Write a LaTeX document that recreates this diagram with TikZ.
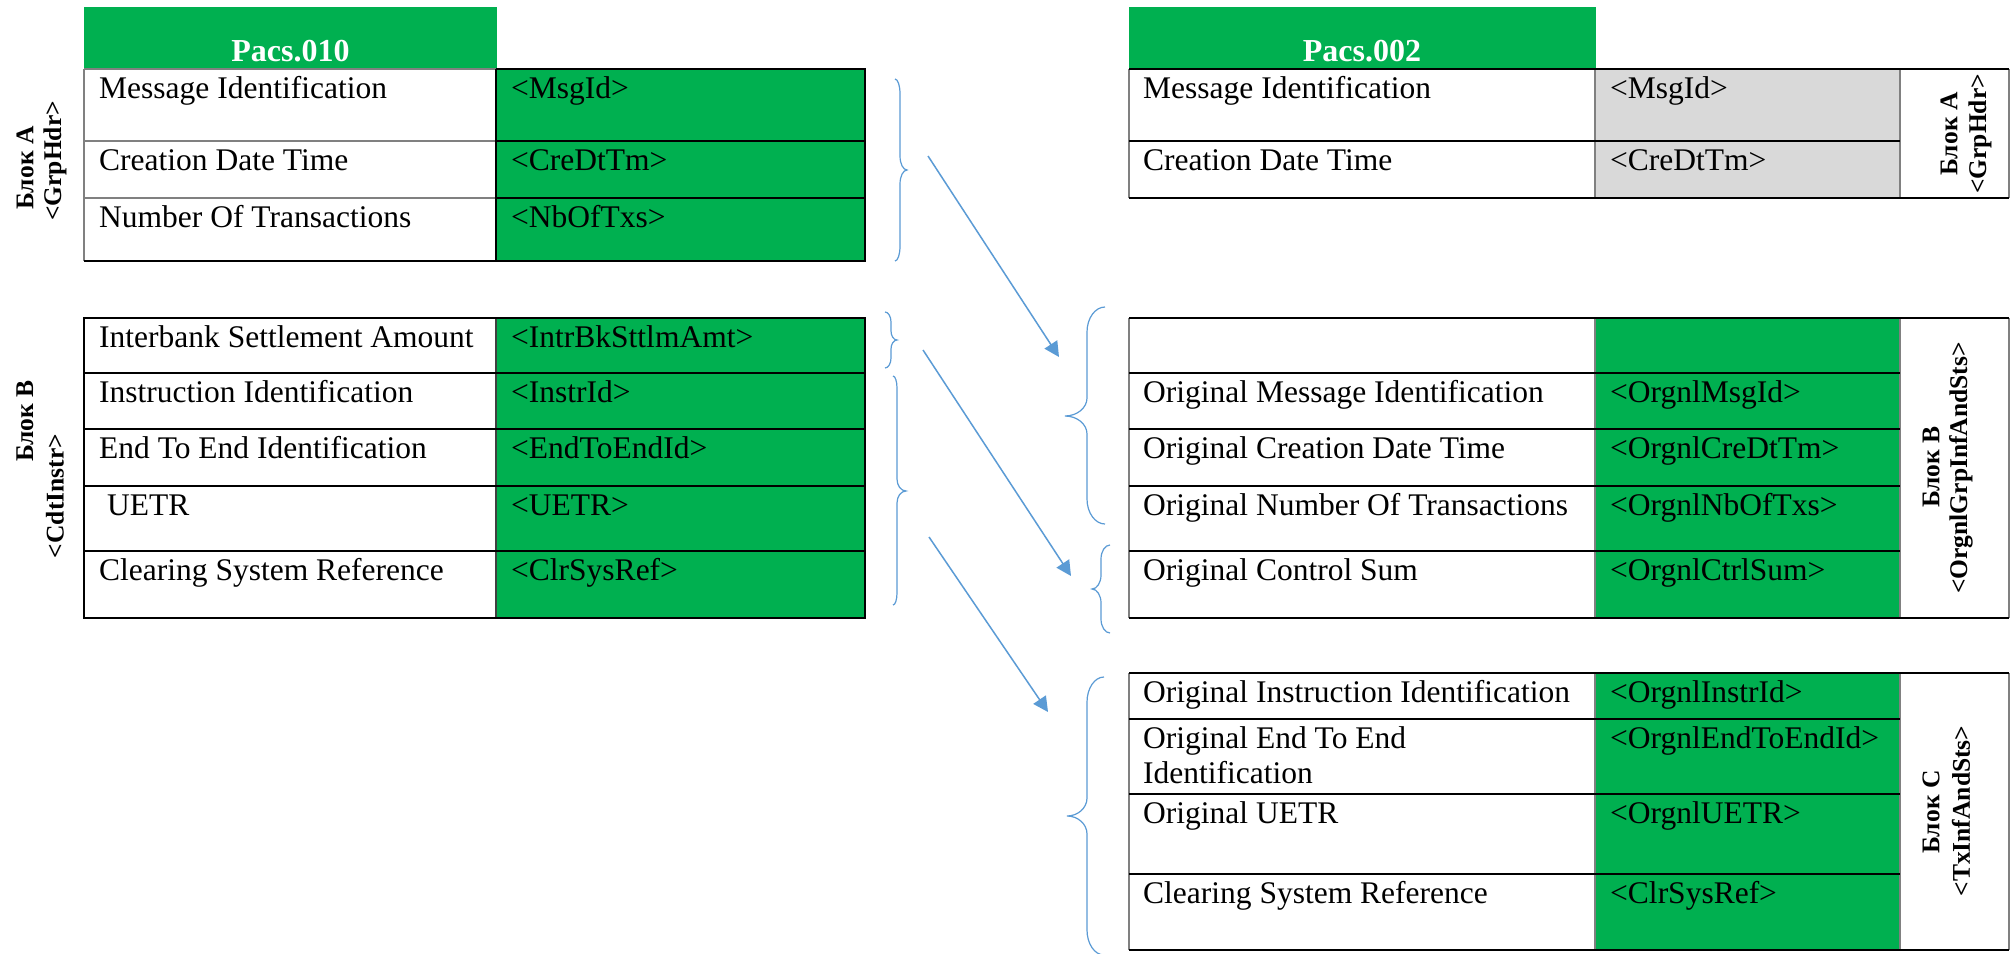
\documentclass[tikz,border=0pt]{standalone}
\usepackage{fontspec}
\setmainfont{Liberation Serif}
\usetikzlibrary{arrows.meta}
\definecolor{xgreen}{HTML}{00B050}
\definecolor{xgray}{HTML}{D9D9D9}
\definecolor{xblue}{HTML}{5B9BD5}
\definecolor{xline}{HTML}{808080}
% #1 end x, #2 body x, #3 tip x, #4 top y, #5 mid y, #6 bottom y, #7 end radius, #8 mid radius
\newcommand{\mybrace}[8]{%
  \draw[bracestyle] (#1,#4) .. controls ({#1+0.55*(#2-#1)},#4) and (#2,{#4+0.45*#7}) .. (#2,{#4+#7})
    -- (#2,{#5-#8}) .. controls (#2,{#5-0.45*#8}) and ({#3-0.55*(#3-#2)},#5) .. (#3,#5)
    .. controls ({#3-0.55*(#3-#2)},#5) and (#2,{#5+0.45*#8}) .. (#2,{#5+#8})
    -- (#2,{#6-#7}) .. controls (#2,{#6-0.45*#7}) and ({#1+0.55*(#2-#1)},#6) .. (#1,#6);}
\begin{document}
\begin{tikzpicture}[x=1pt,y=-1pt,
  cell/.style={anchor=base west, inner sep=0pt, font=\fontsize{31.5}{35}\selectfont},
  hdr/.style={anchor=base, inner sep=0pt, text=white, font=\bfseries\fontsize{32}{36}\selectfont},
  blk/.style={anchor=center, inner sep=0pt, rotate=90, font=\bfseries\fontsize{25.5}{29}\selectfont},
  hline/.style={line width=2pt, black},
  vgray/.style={line width=1.3pt, xline},
  vdark/.style={line width=1.5pt, black!75},
  bracestyle/.style={line width=1.2pt, xblue},
  conn/.style={line width=1.5pt, xblue, -{Triangle[length=15pt,width=15pt]}}]
\useasboundingbox (0,0) rectangle (2015,953);
\fill[white] (0,0) rectangle (2015,953);

% ---------- Left table A ----------
\fill[xgreen] (84,7) rectangle (497,68);
\node[hdr] (h1) at (290.5,61) {Pacs.010};
\fill[xgreen] (496,69) rectangle (865,261);
\draw[vgray] (84,69) -- (496,69) (84,141) -- (496,141) (84,198) -- (496,198) (84,69) -- (84,261);
\draw[hline] (496,69) -- (865,69) -- (865,261) -- (84,261);
\draw[hline] (496,69) -- (496,261) (496,141) -- (865,141) (496,198) -- (865,198);
\node[cell] (la1) at (99,98) {Message Identification};
\node[cell] (la1v) at (511,98) {<MsgId>};
\node[cell] (la2) at (99,170) {Creation Date Time};
\node[cell] (la2v) at (511,170) {<CreDtTm>};
\node[cell] (la3) at (99,227) {Number Of Transactions};
\node[cell] (la3v) at (511,227) {<NbOfTxs>};
\node[blk] (lblA1) at (25,168) {Блок А};
\node[blk] (lblA2) at (55,161) {<GrpHdr>};

% ---------- Left table B ----------
\fill[xgreen] (496,318) rectangle (865,618);
\draw[vdark] (496,318) -- (496,618);
\draw[hline] (84,318) rectangle (865,618);
\draw[hline] (84,373) -- (865,373) (84,429) -- (865,429) (84,486) -- (865,486) (84,551) -- (865,551);
\node[cell] (lb1) at (99,347.5) {Interbank Settlement Amount};
\node[cell] (lb1v) at (511,347.5) {<IntrBkSttlmAmt>};
\node[cell] (lb2) at (99,402.5) {Instruction Identification};
\node[cell] (lb2v) at (511,402.5) {<InstrId>};
\node[cell] (lb3) at (99,458.5) {End To End Identification};
\node[cell] (lb3v) at (511,458.5) {<EndToEndId>};
\node[cell] (lb4) at (107,515.5) {UETR};
\node[cell] (lb4v) at (511,515.5) {<UETR>};
\node[cell] (lb5) at (99,580.5) {Clearing System Reference};
\node[cell] (lb5v) at (511,580.5) {<ClrSysRef>};
\node[blk] (lblB1) at (25,421) {Блок В};
\node[blk] (lblB2) at (55,496) {<CdtInstr>};

% ---------- Right table A ----------
\fill[xgreen] (1129,7) rectangle (1596,68);
\node[hdr] (h2) at (1362,61) {Pacs.002};
\fill[xgray] (1595,69) rectangle (1900,198);
\draw[vgray] (1129,69) -- (1129,198) (1595,69) -- (1595,198) (1900,69) -- (1900,198) (2009,69) -- (2009,198);
\draw[hline] (1129,69) -- (2009,69) (1129,141) -- (1900,141) (1129,198) -- (2009,198);
\node[cell] (ra1) at (1143,98) {Message Identification};
\node[cell] (ra1v) at (1610,98) {<MsgId>};
\node[cell] (ra2) at (1143,170) {Creation Date Time};
\node[cell] (ra2v) at (1610,170) {<CreDtTm>};
\node[blk] (rlblA1) at (1949,134) {Блок А};
\node[blk] (rlblA2) at (1980,134) {<GrpHdr>};

% ---------- Right table B ----------
\fill[xgreen] (1595,318) rectangle (1900,618);
\draw[vgray] (1129,318) -- (1129,618) (1595,318) -- (1595,618) (1900,318) -- (1900,618) (2009,318) -- (2009,618);
\draw[hline] (1129,318) -- (2009,318) (1129,618) -- (2009,618);
\draw[hline] (1129,373) -- (1900,373) (1129,429) -- (1900,429) (1129,486) -- (1900,486) (1129,551) -- (1900,551);
\node[cell] (rb2) at (1143,402.5) {Original Message Identification};
\node[cell] (rb2v) at (1610,402.5) {<OrgnlMsgId>};
\node[cell] (rb3) at (1143,458.5) {Original Creation Date Time};
\node[cell] (rb3v) at (1610,458.5) {<OrgnlCreDtTm>};
\node[cell] (rb4) at (1143,515.5) {Original Number Of Transactions};
\node[cell] (rb4v) at (1610,515.5) {<OrgnlNbOfTxs>};
\node[cell] (rb5) at (1143,580.5) {Original Control Sum};
\node[cell] (rb5v) at (1610,580.5) {<OrgnlCtrlSum>};
\node[blk] (rlblB1) at (1931,467) {Блок В};
\node[blk] (rlblB2) at (1961,468) {<OrgnlGrpInfAndSts>};

% ---------- Right table C ----------
\fill[xgreen] (1595,673) rectangle (1900,949.5);
\draw[vgray] (1129,673) -- (1129,949.5) (1595,673) -- (1595,949.5) (1900,673) -- (1900,949.5) (2009,673) -- (2009,949.5);
\draw[hline] (1129,673) -- (2009,673) (1129,949.5) -- (2009,949.5);
\draw[hline] (1129,719) -- (1900,719) (1129,794) -- (1900,794) (1129,874) -- (1900,874);
\node[cell] (rc1) at (1143,702) {Original Instruction Identification};
\node[cell] (rc1v) at (1610,702) {<OrgnlInstrId>};
\node[cell] (rc2a) at (1143,748) {Original End To End};
\node[cell] (rc2b) at (1143,783.5) {Identification};
\node[cell] (rc2v) at (1610,748) {<OrgnlEndToEndId>};
\node[cell] (rc3) at (1143,823) {Original UETR};
\node[cell] (rc3v) at (1610,823) {<OrgnlUETR>};
\node[cell] (rc4) at (1143,903.5) {Clearing System Reference};
\node[cell] (rc4v) at (1610,903.5) {<ClrSysRef>};
\node[blk] (rlblC1) at (1931,812) {Блок С};
\node[blk] (rlblC2) at (1961,811) {<TxInfAndSts>};

% ---------- Braces ----------
\mybrace{895}{900}{907}{79}{170}{261}{15}{14}
\mybrace{885}{891}{897}{312}{340}{368}{10}{9}
\mybrace{893}{897}{906}{376}{491}{605}{12}{12}
\mybrace{1105}{1087}{1065}{307}{416}{524}{25}{18}
\mybrace{1110}{1101}{1092}{545}{589}{633}{14}{14}
\mybrace{1104}{1087}{1067}{677}{816}{955}{25}{18}

% ---------- Arrows ----------
\coordinate (a1s) at (928,156);
\coordinate (a1e) at (1059,357);
\coordinate (a2s) at (923,350);
\coordinate (a2e) at (1071,576);
\coordinate (a3s) at (929,537);
\coordinate (a3e) at (1048,712);
\draw[conn] (a1s) -- (a1e);
\draw[conn] (a2s) -- (a2e);
\draw[conn] (a3s) -- (a3e);
\end{tikzpicture}
\end{document}
